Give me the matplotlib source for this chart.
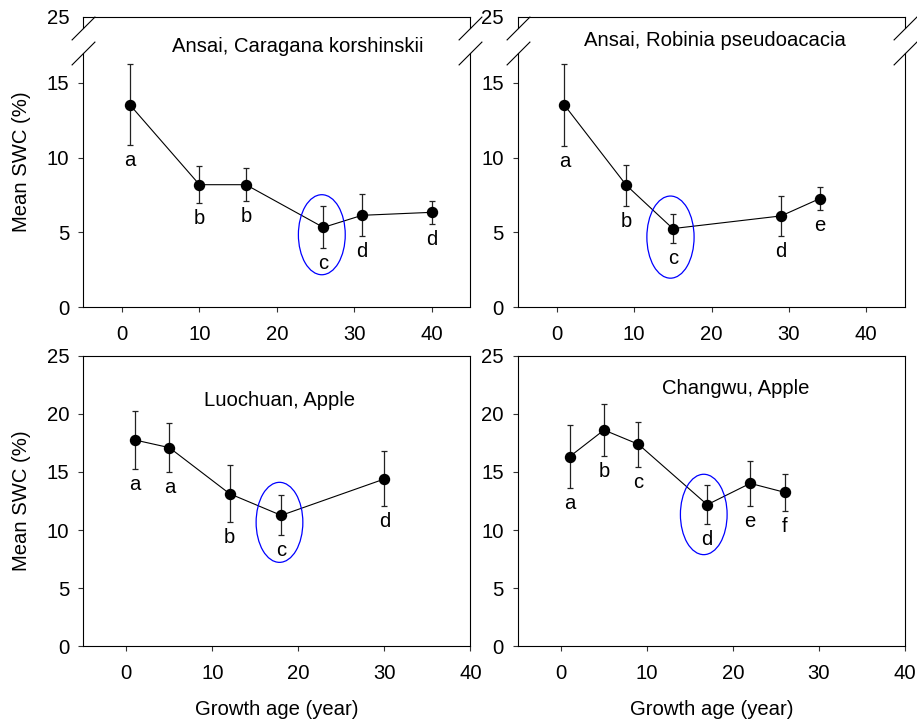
import matplotlib
matplotlib.use("Agg")
import matplotlib.pyplot as plt
from matplotlib.patches import Ellipse

plt.rcParams['font.family'] = ['Liberation Sans', 'DejaVu Sans']

# ---------------- data ----------------
ck_age = [1, 10, 16, 26, 31, 40]
ck_swc = [13.55, 8.19, 8.19, 5.33, 6.14, 6.34]
ck_err = [2.72, 1.22, 1.12, 1.40, 1.40, 0.77]
ck_let = ['a', 'b', 'b', 'c', 'd', 'd']

rp_age = [1, 9, 15, 29, 34]
rp_swc = [13.52, 8.15, 5.25, 6.10, 7.26]
rp_err = [2.73, 1.37, 0.96, 1.33, 0.79]
rp_let = ['a', 'b', 'c', 'd', 'e']

lc_age = [1, 5, 12, 18, 30]
lc_swc = [17.76, 17.10, 13.13, 11.26, 14.40]
lc_err = [2.50, 2.10, 2.47, 1.72, 2.37]
lc_let = ['a', 'a', 'b', 'c', 'd']

cw_age = [1, 5, 9, 17, 22, 26]
cw_swc = [16.32, 18.62, 17.39, 12.18, 14.02, 13.25]
cw_err = [2.73, 2.25, 1.95, 1.66, 1.97, 1.58]
cw_let = ['a', 'b', 'c', 'd', 'e', 'f']

titles = ['Ansai, Caragana korshinskii', 'Ansai, Robinia pseudoacacia',
          'Luochuan, Apple', 'Changwu, Apple']
xticks = [0, 10, 20, 30, 40]
yticks_top = [0, 5, 10, 15]
yticks_bot = [0, 5, 10, 15, 20, 25]

W, H = 917, 722
fig = plt.figure(figsize=(W / 100, H / 100), dpi=100)
FS = 14.6


def fr(left, top, right, bottom):
    return [left / W, 1 - bottom / H, (right - left) / W, (bottom - top) / H]


def style(ax):
    for s in ax.spines.values():
        s.set_linewidth(0.8)
    ax.tick_params(direction='out', length=3.6, width=0.8, labelsize=FS,
                   color='#333333')
    ax.tick_params(axis='y', pad=6.5)
    ax.tick_params(axis='x', pad=9.5)


def draw(ax, age, swc, err, let, ell, title_xy, ttl):
    ax.errorbar(age, swc, yerr=err, fmt='none', ecolor='#222222',
                elinewidth=0.9, capsize=2.3, capthick=0.9, zorder=2)
    ax.plot(age, swc, '-', color='black', lw=0.8, zorder=3)
    ax.plot(age, swc, 'o', color='black', ms=7.2, zorder=4)
    for x, y, e, t in zip(age, swc, err, let):
        ax.annotate(t, (x, y - e), xytext=(0, -21), textcoords='offset pixels',
                    ha='center', va='baseline', fontsize=FS)
    cx, cy, w, h = ell
    ax.add_patch(Ellipse((cx, cy), w, h, fill=False, edgecolor='#0000ff',
                         lw=0.9, zorder=5))
    ax.text(title_xy[0], title_xy[1], ttl, ha='center', va='center',
            fontsize=FS, clip_on=False)


# ---------- top panels (broken y axis) ----------
px_per_unit = 224 / 15.0
top_panels = [
    (83.3, 470.5, ck_age, ck_swc, ck_err, ck_let, (25.8, 4.84, 6.05, 5.36),
     (22.7, (307 - 46) / px_per_unit), titles[0]),
    (518.0, 905.0, rp_age, rp_swc, rp_err, rp_let, (14.7, 4.68, 6.1, 5.5),
     (20.4, (307 - 41) / px_per_unit), titles[1]),
]
for left, right, age, swc, err, let, ell, txy, ttl in top_panels:
    lo = fig.add_axes(fr(left, 53, right, 307))
    hi = fig.add_axes(fr(left, 17, right, 28))
    lo.set_xlim(-5, 45)
    hi.set_xlim(-5, 45)
    lo.set_ylim(0, (307 - 53) / px_per_unit)
    hi.set_ylim(25 - 11 / px_per_unit, 25)
    style(lo)
    style(hi)
    lo.set_xticks(xticks)
    lo.set_yticks(yticks_top)
    lo.spines['top'].set_visible(False)
    hi.spines['bottom'].set_visible(False)
    hi.set_xticks([])
    hi.set_yticks([25])
    hi.tick_params(axis='y', length=0, pad=10.1)
    draw(lo, age, swc, err, let, ell, txy, ttl)
    kw = dict(marker=[(-1, -1), (1, 1)], markersize=17, linestyle='none',
              color='black', mew=0.8, clip_on=False)
    hi.plot([0, 1], [0, 0], transform=hi.transAxes, **kw)
    lo.plot([0, 1], [1, 1], transform=lo.transAxes, **kw)

# ---------- bottom panels ----------
bot_panels = [
    (83.3, 470.5, lc_age, lc_swc, lc_err, lc_let, (17.8, 10.66, 5.43, 6.9),
     (17.8, 21.2), titles[2]),
    (518.0, 905.0, cw_age, cw_swc, cw_err, cw_let, (16.6, 11.34, 5.43, 6.93),
     (20.3, 22.2), titles[3]),
]
for left, right, age, swc, err, let, ell, txy, ttl in bot_panels:
    ax = fig.add_axes(fr(left, 356, right, 646))
    ax.set_xlim(-5, 40)
    ax.set_ylim(0, 25)
    style(ax)
    ax.set_xticks(xticks)
    ax.set_yticks(yticks_bot)
    draw(ax, age, swc, err, let, ell, txy, ttl)
    ax.set_xlabel('Growth age (year)', fontsize=FS, labelpad=12)

fig.text(21.7 / W, 1 - 162 / H, 'Mean SWC (%)', rotation=90, ha='center',
         va='center', fontsize=FS)
fig.text(21.7 / W, 1 - 501 / H, 'Mean SWC (%)', rotation=90, ha='center',
         va='center', fontsize=FS)

fig.savefig('out.png', dpi=100)
